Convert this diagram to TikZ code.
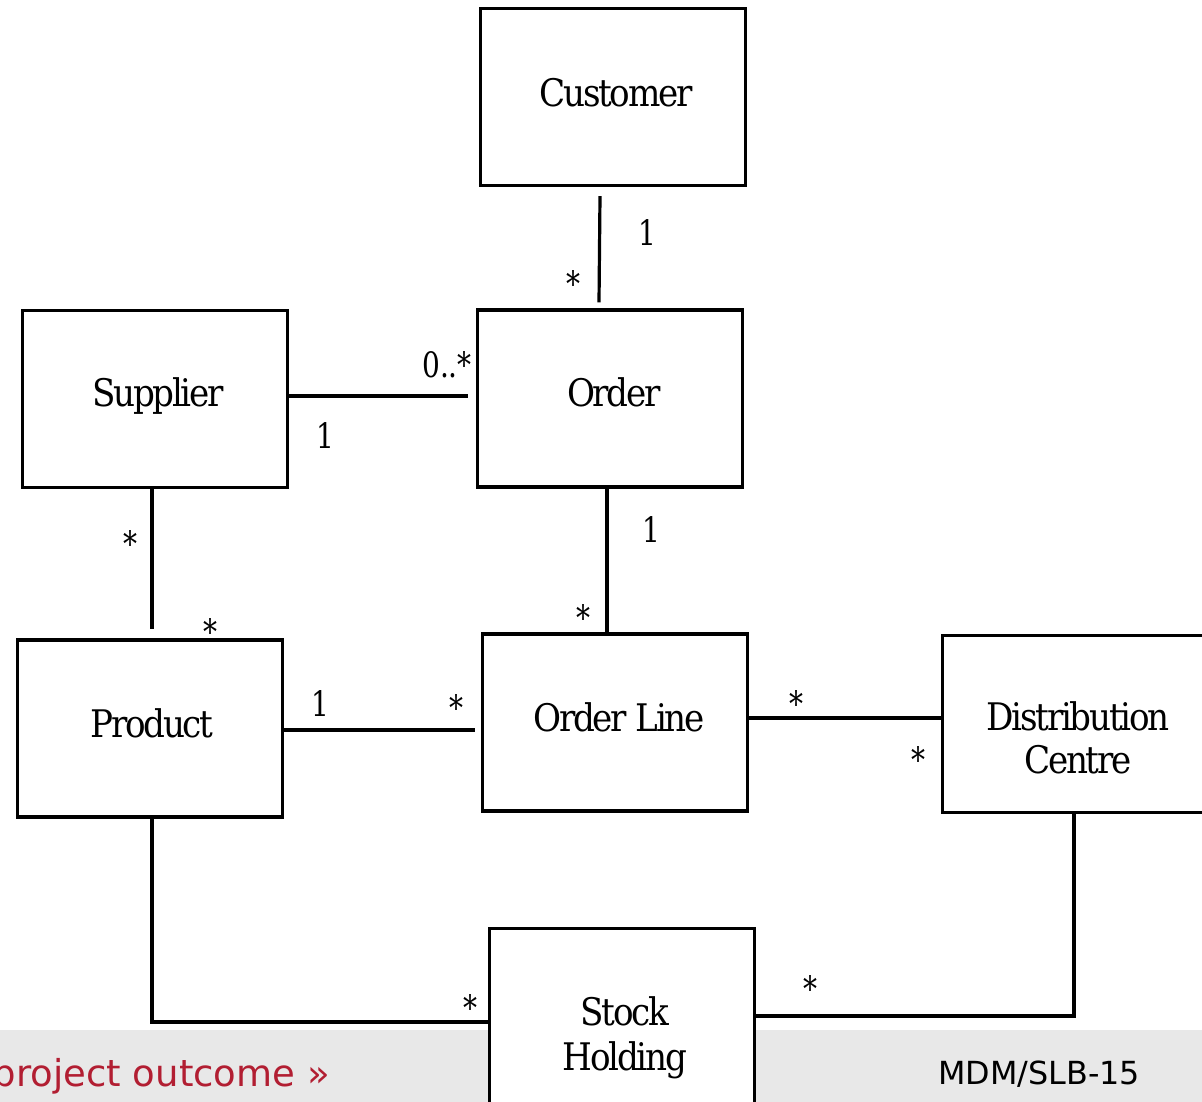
\documentclass[tikz,border=0pt]{standalone}
\usepackage{fontspec}
\setmainfont{DejaVu Serif}
\newfontfamily\boxfont{DejaVu Serif}[FakeStretch=0.9,LetterSpace=-6]
\newfontfamily\multfont{DejaVu Serif}[FakeStretch=0.8]
\newfontfamily\barfont{DejaVu Sans}
\definecolor{linkred}{RGB}{178,30,50}
\definecolor{barbg}{RGB}{232,232,232}
\tikzset{
  entity/.style={draw, line width=3.2pt, fill=white, minimum width=265pt,
    minimum height=177pt, inner sep=0pt},
  entitytext/.style={anchor=base, inner sep=0pt,
    font=\boxfont\fontsize{38}{44}\selectfont},
  mult/.style={inner sep=0pt, font=\multfont\fontsize{35}{37}\selectfont},
  assoc/.style={line width=3.2pt}
}
\begin{document}
\begin{tikzpicture}[x=1pt,y=-1pt]
\clip (0,0) rectangle (1202,1102);
\fill[white] (0,0) rectangle (1202,1102);

% footer band
\fill[barbg] (0,1030) rectangle (1202,1102);
\node[anchor=base east, inner sep=0pt, text=linkred,
      font=\barfont\fontsize{37}{40}\selectfont] (outcome) at (330,1086) {project outcome »};
\node[anchor=base west, inner sep=0pt,
      font=\barfont\fontsize{31.8}{34}\selectfont] (ref) at (938,1084) {MDM/SLB-15};

% entities
\node[entity] (cust)  at (613,97)    {};
\node[entity] (supp)  at (155,399)   {};
\node[entity] (order) at (610,398.5) {};
\node[entity] (prod)  at (150,728.5) {};
\node[entity] (ol)    at (615,722.5) {};
\node[entity] (dc)    at (1075,724)  {};
\node[entity] (sh)    at (622,1017)  {};

% entity names, set on their baselines
\node[entitytext] (custname)  at (616,107) {Customer};
\node[entitytext] (suppname)  at (158,406) {Supplier};
\node[entitytext] (ordername) at (614,406) {Order};
\node[entitytext] (prodname)  at (152,737) {Product};
\node[entitytext] (olname)    at (619,731) {Order Line};
\node[entitytext] (dcname1)   at (1078,730) {Distribution};
\node[entitytext] (dcname2)   at (1078,773) {Centre};
\node[entitytext] (shname1)   at (625,1025) {Stock};
\node[entitytext] (shname2)   at (625,1070) {Holding};

% associations
\draw[assoc] ([xshift=-13pt,yshift=-9pt]cust.south) -- ([xshift=-11pt,yshift=6pt]order.north);
\draw[assoc] ([xshift=-1pt,yshift=3pt]supp.east) -- ([xshift=-8pt,yshift=2.5pt]order.west);
\draw[assoc] ([xshift=-3pt]supp.south) -- ([xshift=2pt,yshift=9pt]prod.north);
\draw[assoc] ([xshift=-3pt]order.south) -- ([xshift=-8pt]ol.north);
\draw[assoc] ([xshift=-3pt,yshift=-1.5pt]prod.east) -- ([xshift=-6pt,yshift=-7.5pt]ol.west);
\draw[assoc] ([xshift=-1pt,yshift=4.5pt]ol.east) -- ([yshift=6pt]dc.west);
\draw[assoc] ([xshift=2pt]prod.south) |- ([xshift=2pt,yshift=-5pt]sh.west);
\draw[assoc] ([xshift=-1pt]dc.south) |- ([yshift=1pt]sh.east);

% multiplicities
\node[mult] (m1)  at (647,233) {1};
\node[mult] (m2)  at (573,284) {*};
\node[mult] (m3)  at (447,365) {0..*};
\node[mult] (m4)  at (325,436) {1};
\node[mult] (m5)  at (130,544) {*};
\node[mult] (m6)  at (210,632) {*};
\node[mult] (m7)  at (651,530) {1};
\node[mult] (m8)  at (583,618) {*};
\node[mult] (m9)  at (320,704) {1};
\node[mult] (m10) at (456,708) {*};
\node[mult] (m11) at (796,704) {*};
\node[mult] (m12) at (918,760) {*};
\node[mult] (m13) at (470,1008) {*};
\node[mult] (m14) at (810,989) {*};
\end{tikzpicture}
\end{document}
